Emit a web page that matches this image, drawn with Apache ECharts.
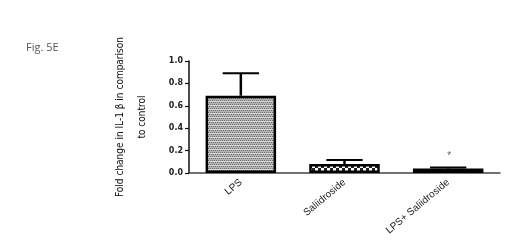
<!DOCTYPE html>
<html><head><meta charset="utf-8">
<script src="https://cdn.jsdelivr.net/npm/echarts@6/dist/echarts.min.js"></script>
<style>html,body{margin:0;padding:0;background:#fff}#c{width:512px;height:251px}</style>
</head><body><div id="c"></div>
<script>
const categories = ['LPS', 'Saliidroside', 'LPS+ Saliidroside'];
const means = [0.69, 0.08, 0.04];
const errors = [0.20, 0.035, 0.01];
const significance = ['', '', '*'];
const yTicks = [0, 0.2, 0.4, 0.6, 0.8, 1.0];

function pat(w, h, draw) {
  const c = document.createElement('canvas'); c.width = w; c.height = h;
  const g = c.getContext('2d'); draw(g); return c;
}
const pLPS = pat(4, 4, g => {
  g.fillStyle = '#b4b4b4'; g.fillRect(0, 0, 4, 4);
  g.fillStyle = '#6e6e6e'; g.fillRect(0, 0, 1, 1); g.fillRect(2, 0, 1, 1); g.fillRect(1, 2, 1, 1); g.fillRect(3, 2, 1, 1);
  g.fillStyle = '#d8d8d8'; g.fillRect(0, 1, 4, 1);
});
const pSal = pat(6, 6, g => {
  g.fillStyle = '#fff'; g.fillRect(0, 0, 6, 6);
  g.fillStyle = '#222'; g.fillRect(0, 0, 3, 3); g.fillRect(3, 3, 3, 3);
});
const fills = [{image: pLPS, repeat: 'repeat'}, {image: pSal, repeat: 'repeat'}, '#f2f2f2'];

const chart = echarts.init(document.getElementById('c'), null, {renderer: 'canvas'});
chart.setOption({
  animation: false,
  graphic: [{type: 'text', left: 26, top: 42, style: {text: 'Fig. 5E', font: '11px "Open Sans", sans-serif', fill: '#555'}}],
  grid: {left: 189, right: 12, top: 61, bottom: 78},
  xAxis: {
    type: 'category', data: categories,
    axisLine: {lineStyle: {color: '#444', width: 1.5}},
    axisTick: {alignWithLabel: true, length: 4, lineStyle: {color: '#333', width: 1.2}},
    axisLabel: {rotate: 40, fontSize: 10, fontFamily: 'Liberation Sans, Arial, sans-serif', color: '#222', margin: 8}
  },
  yAxis: {
    type: 'value', min: 0, max: 1.0, interval: 0.2,
    name: 'Fold change in IL-1 \u03b2 in comparison\nto control',
    nameLocation: 'middle', nameRotate: 90, nameGap: 36,
    nameTextStyle: {fontSize: 10, fontFamily: '"Liberation Sans Narrow", "DejaVu Sans Condensed", sans-serif', color: '#111', lineHeight: 22},
    axisLine: {show: true, lineStyle: {color: '#111', width: 1.5}},
    axisTick: {show: true, length: 4, lineStyle: {color: '#111', width: 1.2}},
    splitLine: {show: false},
    axisLabel: {fontSize: 8, fontWeight: 'bold', fontFamily: '"DejaVu Sans", sans-serif', color: '#222', margin: 6,
      formatter: v => yTicks.indexOf(Math.round(v * 10) / 10) >= 0 ? v.toFixed(1) : ''}
  },
  series: [
    {
      type: 'bar', barWidth: '68%',
      data: means.map((v, i) => ({value: v, itemStyle: {color: fills[i]}})),
      itemStyle: {borderColor: '#000', borderWidth: 2.5},
      z: 2
    },
    {
      type: 'custom', z: 3,
      data: means.map((v, i) => [i, v, v + errors[i]]),
      renderItem: (params, api) => {
        const i = api.value(0);
        const base = api.coord([i, api.value(1)]);
        const top = api.coord([i, api.value(2)]);
        const bw = api.size([1, 0])[0];
        const cap = bw * 0.35;
        const ch = [
          {type: 'line', shape: {x1: base[0], y1: base[1], x2: top[0], y2: top[1]}, style: {stroke: '#000', lineWidth: 2.5}},
          {type: 'line', shape: {x1: top[0] - cap / 2, y1: top[1], x2: top[0] + cap / 2, y2: top[1]}, style: {stroke: '#000', lineWidth: 2}}
        ];
        if (significance[i]) {
          ch.push({type: 'text', x: top[0] + 1, y: top[1] - 11, style: {text: significance[i], font: '10px Arial, sans-serif', fill: '#666', align: 'center', verticalAlign: 'middle'}});
        }
        return {type: 'group', children: ch};
      }
    }
  ]
});
</script></body></html>
